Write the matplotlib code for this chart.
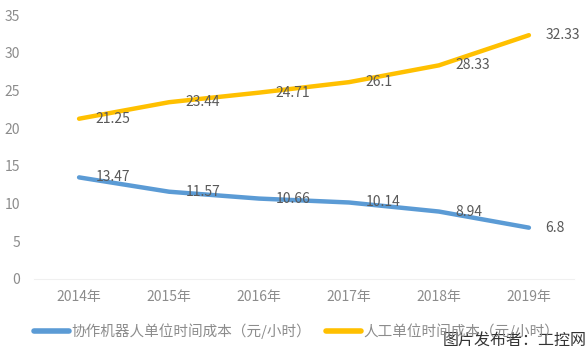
import numpy as np
import matplotlib
matplotlib.use("Agg")
import matplotlib.pyplot as plt

plt.rcParams['font.family'] = ['Noto Sans CJK SC', 'DejaVu Sans']

years = ['2014年', '2015年', '2016年', '2017年', '2018年', '2019年']
robot_cost = [13.47, 11.57, 10.66, 10.14, 8.94, 6.8]
human_cost = [21.25, 23.44, 24.71, 26.1, 28.33, 32.33]
robot_name = '协作机器人单位时间成本（元/小时）'
human_name = '人工单位时间成本（元/小时）'

blue = '#5B9BD5'
yellow = '#FFC000'

fig = plt.figure(figsize=(5.88, 3.5), dpi=100)
ax = fig.add_axes([0.058, 0.203, 0.918, 0.754])

x = np.arange(len(years))
ax.plot(x, robot_cost, color=blue, lw=3.2, solid_capstyle='round', label=robot_name)
ax.plot(x, human_cost, color=yellow, lw=3.2, solid_capstyle='round', label=human_name)

# data labels to the right of each point
for xi, v in zip(x, robot_cost):
    ax.annotate(f'{v:g}', (xi, v), xytext=(12, 0), textcoords='offset points',
                va='center', ha='left', fontsize=10, color='#595959')
for xi, v in zip(x, human_cost):
    ax.annotate(f'{v:g}', (xi, v), xytext=(12, 0), textcoords='offset points',
                va='center', ha='left', fontsize=10, color='#595959')

ax.set_xlim(-0.5, len(years) - 0.5)
ax.set_ylim(0, 35)
ax.set_yticks(range(0, 36, 5))
ax.set_xticks(x)
ax.set_xticklabels(years)
ax.tick_params(length=0, colors='#8c8c8c', labelsize=10)
ax.tick_params(axis='y', pad=10)
ax.tick_params(axis='x', pad=8)
for s in ['top', 'right', 'left']:
    ax.spines[s].set_visible(False)
ax.spines['bottom'].set_color('#f0f0f0')

leg = fig.legend(loc='lower left', bbox_to_anchor=(0.035, -0.005), ncol=2,
                 frameon=False, fontsize=10.5, handlelength=2.4,
                 handletextpad=0.2, columnspacing=1.0, labelcolor='#8c8c8c')
for h in leg.get_lines():
    h.set_linewidth(4)

fig.text(0.997, 0.005, '图片发布者：工控网', ha='right', va='bottom',
         fontsize=11.5, color='#333333')

fig.savefig('out.png', dpi=100)
